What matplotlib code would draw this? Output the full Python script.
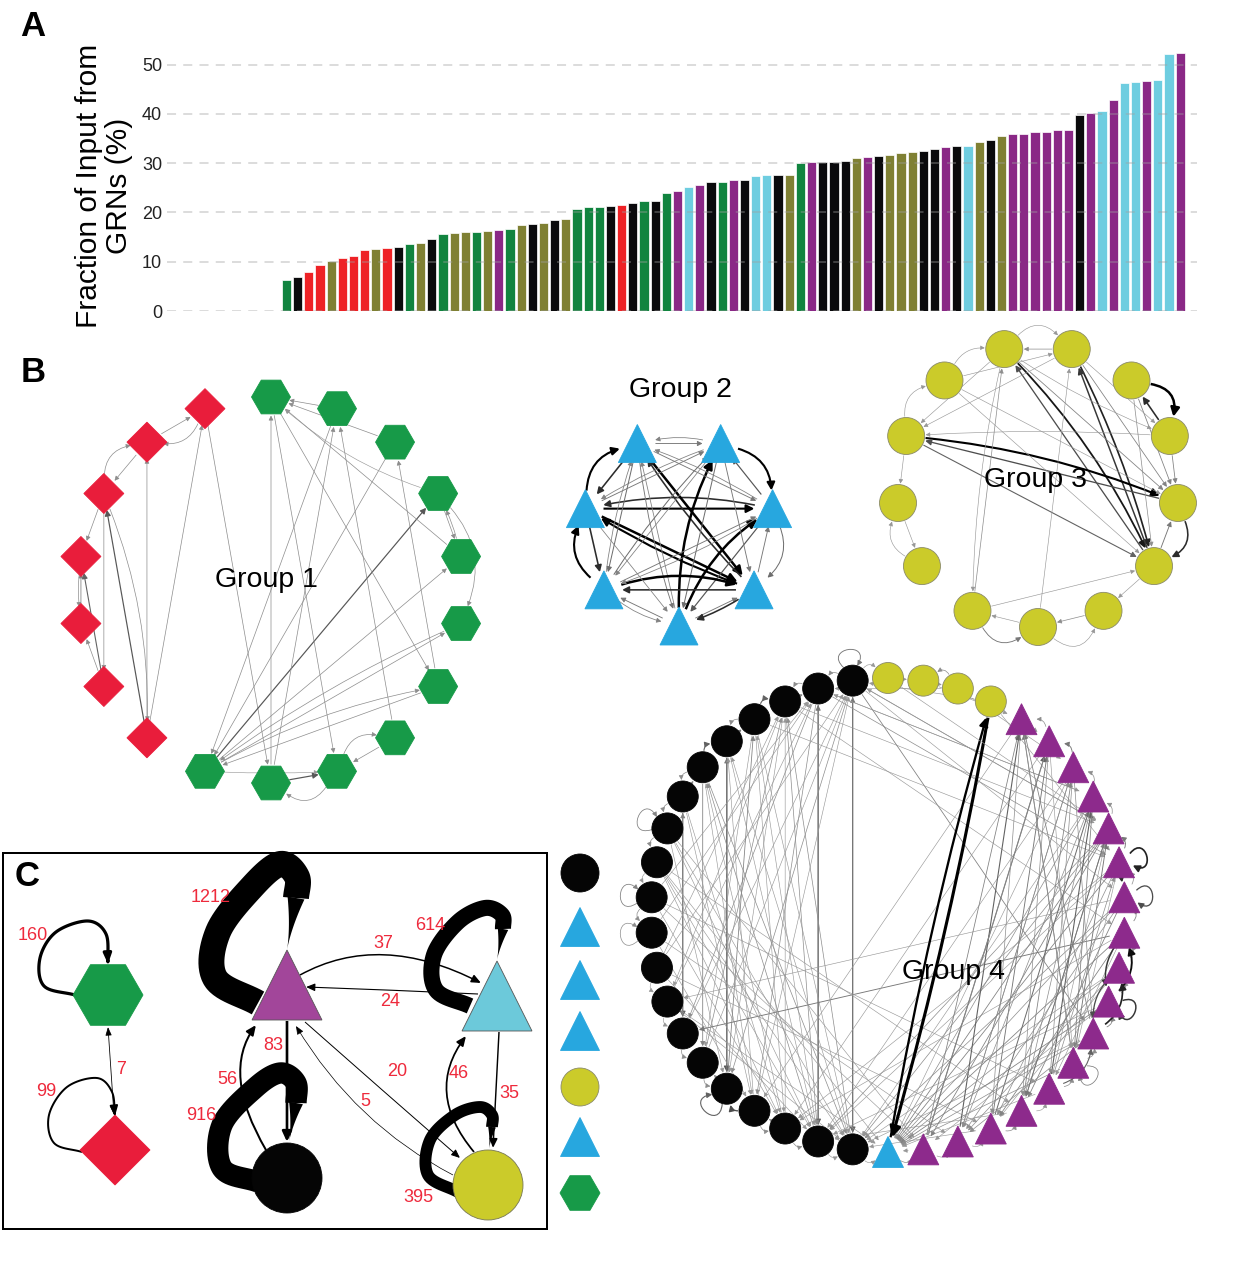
import numpy as np
import matplotlib
matplotlib.use("Agg")
import matplotlib.pyplot as plt
from matplotlib.patches import (Circle, RegularPolygon, Polygon, FancyArrowPatch,
                                Rectangle, ArrowStyle)
from matplotlib.path import Path

plt.rcParams["font.family"] = ["Liberation Sans", "DejaVu Sans"]

FIG_W, FIG_H = 1254, 1274
PT = 0.72  # points per pixel at 100 dpi

# ---------------------------------------------------------------- panel A data
zero_bars = 10
grn_input_pct = [
    6.2, 7.0, 7.9, 9.4, 10.2, 10.8, 11.2, 12.3, 12.6, 12.7,
    12.9, 13.7, 13.8, 14.7, 15.6, 15.8, 16.0, 16.1, 16.2, 16.4,
    16.6, 17.4, 17.6, 17.8, 18.5, 18.7, 20.8, 21.1, 21.2, 21.3,
    21.5, 22.0, 22.4, 22.4, 24.0, 24.4, 25.1, 25.6, 26.2, 26.2,
    26.5, 26.5, 27.5, 27.6, 27.7, 27.7, 30.0, 30.2, 30.2, 30.2,
    30.5, 31.1, 31.2, 31.5, 31.7, 32.0, 32.3, 32.5, 32.9, 33.3,
    33.5, 33.5, 34.4, 34.7, 35.6, 35.9, 36.0, 36.3, 36.4, 36.7,
    36.7, 39.7, 40.1, 40.7, 42.8, 46.3, 46.5, 46.7, 46.8, 52.2, 52.4,
]
grn_group = ("GKRRORRROR" "KGOKGOOGOP" "GOKOKOGGGK" "RKGKGPCPKG"
             "PKCCKOGPKK" "KOPKOOOKKP" "KCOKOPPPPP" "PKPCPCCPCCP")
bar_palette = {"G": "#11843f", "K": "#0a0a0c", "R": "#ee2226",
               "O": "#7f8033", "P": "#8a2886", "C": "#6ecde0"}
y_ticks = [0, 10, 20, 30, 40, 50]

# ---------------------------------------------------------------- node colours
RED, GREEN, CYAN = "#e91d3b", "#179a48", "#27a7df"
YELLOW, PURPLE, BLACK = "#cbcb2a", "#8d2a8c", "#050505"
node_style = {"H": ("hex", GREEN), "D": ("diamond", RED), "T": ("tri", CYAN),
              "Y": ("circle", YELLOW), "B": ("circle", BLACK), "P": ("tri", PURPLE)}

# ---------------------------------------------------------------- panel B data
g1_nodes = "H" * 11 + "D" * 7
g1_edges = [
    (16, 17, 0.4), (17, 16, 0.4, -0.35), (16, 15, 0.4), (15, 16, 0.4, 0.4),
    (15, 14, 0.4), (13, 14, 0.5), (14, 13, 0.4, 0.05), (12, 14, 0.8), (12, 13, 0.4),
    (15, 12, 0.4), (11, 15, 0.9), (15, 11, 0.4, -0.1), (11, 16, 0.4), (11, 17, 0.4),
    (17, 9, 0.4),
    (10, 3, 0.9), (10, 4, 0.4), (10, 5, 0.4), (10, 6, 0.4, -0.08), (6, 10, 0.4),
    (2, 10, 0.4), (1, 10, 0.4), (9, 0, 0.4), (0, 8, 0.4), (0, 6, 0.4), (9, 1, 0.4),
    (7, 1, 0.4), (6, 2, 0.4), (2, 0, 0.4), (1, 0, 0.4), (4, 0, 0.4), (3, 0, 0.3, -0.1),
    (3, 4, 0.4), (4, 3, 0.4, 0.05), (3, 5, 0.4, 0.3), (8, 7, 0.4, -0.4), (7, 8, 0.4),
    (9, 8, 0.9), (10, 8, 0.3, 0.02), (8, 9, 0.4, 0.5), (5, 10, 0.4, -0.05),
]

g2_nodes = "T" * 7
g2_edges = [
    (5, 4, 1.8, 0.35), (4, 5, 1.3), (3, 2, 1.8, 0.35), (2, 3, 0.9), (6, 5, 1.8, 0.35),
    (5, 6, 1.3), (2, 1, 0.7, 0.35), (1, 2, 0.6), (0, 6, 0.6), (6, 0, 0.5, 0.1),
    (0, 1, 0.6), (1, 0, 1.3, 0.05), (5, 2, 1.8), (2, 5, 1.3, 0.1), (5, 1, 2.2),
    (1, 5, 1.8, 0.05), (4, 1, 2.2), (1, 4, 1.3, -0.05), (0, 3, 2.2, -0.12), (3, 0, 0.7),
    (0, 2, 2.2, -0.15), (2, 0, 0.9), (0, 4, 0.5), (4, 0, 0.6, 0.05), (6, 1, 2.2, -0.15),
    (1, 6, 1.3), (6, 2, 0.6), (2, 6, 0.5, 0.05), (4, 3, 0.6), (3, 4, 0.5, 0.1),
    (5, 3, 0.6), (3, 5, 0.5, 0.05), (4, 2, 0.6), (2, 4, 0.5, 0.05), (3, 6, 0.5),
    (6, 3, 0.7, 0.05), (4, 6, 0.7), (6, 4, 0.5, 0.05), (3, 1, 0.6), (5, 0, 0.5),
]

g3_nodes = "Y" * 13
g3_edges = [
    (7, 2, 1.5, 0.08), (2, 7, 1.0), (6, 2, 1.4, 0.05), (2, 6, 1.2), (7, 3, 0.5),
    (6, 3, 0.5), (5, 3, 0.5), (4, 3, 0.5), (9, 3, 1.8, 0.07), (3, 9, 1.0),
    (9, 2, 0.8), (5, 4, 2.2, 0.5), (4, 5, 1.3), (3, 2, 1.3, 0.45), (2, 3, 0.6),
    (6, 7, 0.4), (7, 6, 0.3, 0.5), (8, 7, 0.3, 0.3), (7, 9, 0.3), (6, 9, 0.3),
    (8, 2, 0.3), (4, 9, 0.3, 0.03), (10, 11, 0.3), (11, 10, 0.3, 0.4), (9, 10, 0.3),
    (12, 7, 0.4), (7, 12, 0.3, 0.05), (0, 6, 0.3), (12, 2, 0.3), (2, 1, 0.3),
    (1, 0, 0.4), (12, 0, 0.6, 0.5), (0, 12, 0.3), (0, 1, 0.3, 0.6), (8, 3, 0.3),
    (9, 8, 0.3, 0.4), (5, 2, 0.4), (6, 4, 0.3), (7, 4, 0.3, -0.05), (8, 6, 0.3),
]

g4_nodes = "Y" + "B" * 20 + "T" + "P" * 17 + "YYY"
g4_edges = [
    (2, 19, 0.8), (19, 2, 0.6), (1, 20, 0.8), (20, 1, 0.6), (5, 16, 0.9), (16, 5, 0.6),
    (6, 15, 0.5), (7, 14, 0.8), (14, 7, 0.5), (2, 14, 0.4), (3, 13, 0.3), (1, 16, 0.4),
    (2, 17, 0.4), (4, 18, 0.3), (8, 19, 0.3), (9, 18, 0.3), (6, 20, 0.4), (3, 16, 0.3),
    (4, 15, 0.3), (7, 17, 0.3), (8, 16, 0.3), (9, 20, 0.3), (10, 18, 0.3), (11, 17, 0.3),
    (12, 19, 0.3), (13, 2, 0.3), (15, 3, 0.4), (17, 1, 0.3), (18, 3, 0.3), (19, 4, 0.3),
    (20, 5, 0.3), (10, 2, 0.3), (12, 3, 0.3), (14, 1, 0.3), (16, 4, 0.5), (18, 6, 0.3),
    (13, 20, 0.3), (9, 19, 0.3), (8, 20, 0.3), (11, 2, 0.3), (15, 1, 0.3), (17, 5, 0.3),
    (19, 6, 0.4), (20, 3, 0.4), (6, 17, 0.3), (5, 19, 0.3), (4, 20, 0.3), (12, 1, 0.3),
    (7, 18, 0.3), (3, 19, 0.4),
    (1, 2, 0.4, 0.4), (2, 3, 0.4, 0.4), (4, 3, 0.8, 0.4), (4, 5, 0.4, 0.4),
    (6, 5, 0.8, 0.4), (6, 7, 0.4, 0.4), (7, 8, 0.4, 0.4), (8, 9, 0.4, 0.4),
    (9, 10, 0.3, 0.4), (10, 11, 0.4, 0.5), (12, 13, 0.3, 0.4), (13, 14, 0.3, 0.4),
    (14, 15, 0.4, 0.4), (15, 16, 0.4, 0.4), (17, 16, 1.0, 0.4), (17, 18, 0.4, 0.4),
    (18, 19, 0.4, 0.4), (19, 20, 0.3, 0.4), (3, 2, 0.5), (5, 4, 0.6), (7, 6, 0.5),
    (16, 15, 0.4), (18, 17, 0.4),
    (1, 34, 0.4), (2, 33, 0.4), (1, 32, 0.3), (3, 34, 0.3), (2, 35, 0.3), (1, 28, 0.5),
    (4, 33, 0.3), (3, 31, 0.3), (34, 1, 0.3), (35, 2, 0.3), (31, 14, 0.6), (32, 13, 0.3),
    (9, 21, 0.3), (10, 22, 0.3), (11, 23, 0.3), (12, 24, 0.3), (8, 22, 0.3), (13, 21, 0.3),
    (9, 25, 0.3), (10, 26, 0.3),
    (34, 19, 0.4), (34, 20, 0.4), (33, 18, 0.3), (35, 20, 0.3), (32, 20, 0.4), (33, 19, 0.3),
    (36, 19, 0.3), (31, 18, 0.3), (30, 20, 0.3), (29, 19, 0.3), (28, 20, 0.3), (25, 19, 0.3),
    (24, 20, 0.3), (37, 18, 0.3), (38, 17, 0.3),
    (34, 21, 0.5), (33, 21, 0.5), (32, 21, 0.4), (31, 21, 0.5), (30, 21, 0.4), (29, 21, 0.5),
    (28, 21, 0.4), (27, 21, 0.4), (26, 21, 0.3), (35, 21, 0.4), (36, 21, 0.3),
    (21, 22, 0.4, 0.4), (22, 21, 0.3), (20, 21, 0.3, 0.4),
    (39, 21, 2.8, 0.025), (21, 39, 2.0, -0.025), (40, 2, 0.3), (39, 1, 0.3), (41, 38, 0.3),
    (40, 36, 0.3), (39, 33, 0.3), (0, 34, 0.3), (40, 41, 0.4, 0.5), (0, 41, 0.3),
    (1, 0, 0.3, 0.5), (41, 40, 0.3),
    (22, 38, 0.5), (23, 38, 0.8), (24, 37, 0.6), (25, 36, 0.5), (26, 35, 0.8), (27, 34, 0.6),
    (28, 38, 0.5), (23, 36, 0.4), (24, 35, 0.7), (25, 34, 0.5), (26, 33, 0.4), (27, 38, 0.6),
    (22, 37, 0.8), (38, 24, 0.4), (37, 25, 0.4), (36, 26, 0.4), (35, 23, 0.4), (34, 22, 0.5),
    (33, 24, 0.4), (38, 27, 0.3), (37, 22, 0.3), (36, 23, 0.4), (35, 25, 0.4), (34, 26, 0.3),
    (33, 27, 0.3), (32, 25, 0.5), (31, 26, 0.3), (30, 24, 0.3), (32, 23, 0.4), (31, 24, 0.5),
    (30, 23, 0.4), (29, 22, 0.3), (28, 23, 0.4), (34, 25, 0.6), (35, 27, 0.5), (36, 28, 0.4),
    (37, 27, 0.3),
    (22, 23, 0.3, 0.4), (23, 24, 0.3, 0.4), (24, 25, 0.4, 0.4), (25, 26, 0.3, 0.4),
    (26, 27, 0.4, 0.4), (27, 28, 0.4, 0.4), (28, 29, 0.5, 0.4), (29, 30, 0.4, 0.4),
    (30, 31, 0.4, 0.4), (31, 32, 0.5, 0.4), (32, 33, 0.4, 0.4), (33, 34, 0.6, 0.4),
    (34, 35, 0.4, 0.4), (35, 36, 0.4, 0.4), (36, 37, 0.6, 0.4), (37, 38, 0.4, 0.4),
    (38, 37, 0.3), (29, 31, 1.6, 0.3), (31, 29, 1.2, -0.2), (28, 30, 1.4, 0.3),
    (33, 32, 1.3), (30, 28, 1.0, -0.2), (26, 28, 0.8, 0.3),
]
g4_self_loops = [(1, 0.6), (8, 0.5), (10, 0.5), (11, 0.4), (16, 0.8), (27, 0.5),
                 (29, 1.2), (32, 1.0), (33, 1.4)]

# ---------------------------------------------------------------- panel C data
c_left_loops = {"hex": 160, "dia": 99}
c_left_link = 7
c_right_loops = {"pur": 1212, "cya": 614, "blk": 916, "yel": 395}
c_right_links = {"pur_cya": 37, "cya_pur": 24, "pur_blk": 83, "blk_pur": 56,
                 "pur_yel": 20, "yel_pur": 5, "yel_cya": 46, "cya_yel": 35}
legend_kinds = ["B", "T", "T", "T", "Y", "T", "H"]

# ================================================================= drawing
fig = plt.figure(figsize=(FIG_W / 100, FIG_H / 100), dpi=100)

# ---- panel A: bar chart
axA = fig.add_axes([167 / FIG_W, 1 - 311 / FIG_H, (1197 - 167) / FIG_W, (311 - 45) / FIG_H])
values = [0.0] * zero_bars + grn_input_pct
codes = "K" * zero_bars + grn_group
xs = np.arange(len(values))
axA.bar(xs, values, width=0.82, color=[bar_palette[c] for c in codes],
        edgecolor="white", linewidth=0.5, zorder=1)
axA.set_xlim(-0.7, 91.5)
axA.set_ylim(0, 54)
axA.set_yticks(y_ticks)
axA.set_yticklabels([str(t) for t in y_ticks], fontsize=13, color="#222222")
axA.set_xticks([])
axA.tick_params(axis="y", length=0, pad=3.6)
axA.set_axisbelow(False)
axA.yaxis.grid(True, linestyle=(0, (5, 4)), color="#a0a0a0", alpha=0.4, lw=1.3)
for sp in axA.spines.values():
    sp.set_visible(False)
axA.patch.set_alpha(0)
fig.text(104 / FIG_W, 1 - 186 / FIG_H, "Fraction of Input from\nGRNs (%)", rotation=90,
         ha="center", va="center", fontsize=21.5, linespacing=1.05, multialignment="center")

# ---- overlay in pixel coordinates for the networks
net = fig.add_axes([0, 0, 1, 1])
net.set_xlim(0, FIG_W)
net.set_ylim(FIG_H, 0)
net.axis("off")

for letter, (lx, ly) in {"A": (33, 27), "B": (33, 373), "C": (27, 877)}.items():
    net.text(lx, ly, letter, fontsize=25, fontweight="bold", ha="center", va="center")


def ring(cx, cy, r, n, start_deg, direction=1):
    ang = np.deg2rad(start_deg + direction * 360.0 / n * np.arange(n))
    return np.c_[cx + r * np.cos(ang), cy - r * np.sin(ang)], ang


def draw_shape(ax, xy, kind, size, color, z=5, ec=None):
    x, y = xy
    if kind == "circle":
        p = Circle((x, y), size, fc=color, ec=ec or color, lw=0.6, zorder=z)
    elif kind == "tri":
        p = Polygon([(x, y - size / 2), (x - size / 2, y + size / 2), (x + size / 2, y + size / 2)],
                    closed=True, fc=color, ec=ec or color, lw=0.6, zorder=z)
    elif kind == "hex":
        p = RegularPolygon((x, y), 6, radius=size, orientation=np.pi / 6, fc=color,
                           ec=ec or color, lw=0.6, zorder=z)
    else:
        p = RegularPolygon((x, y), 4, radius=size, fc=color, ec=ec or color, lw=0.6, zorder=z)
    ax.add_patch(p)


def boundary(kind, size):
    return {"circle": size, "tri": 0.45 * size, "hex": 0.9 * size, "diamond": 0.78 * size}[kind]


def add_arrow(ax, verts, codes_, lw_px, color, hl_px, hw_px, style="-|>", z=2):
    ax.add_patch(FancyArrowPatch(
        path=Path(verts, codes_),
        arrowstyle=ArrowStyle(style, head_length=hl_px * PT, head_width=hw_px * PT),
        mutation_scale=1, lw=lw_px * PT, color=color, zorder=z, capstyle="butt"))


def net_edge_style(w):
    g = max(0.0, 0.72 - 0.42 * w)
    return 0.3 + 1.0 * w, (g, g, g)


def curved_edge(ax, p, q, w, bend, rp, rq, center, z=2):
    p = np.asarray(p, float)
    q = np.asarray(q, float)
    d = q - p
    L = np.hypot(*d)
    perp = np.array([-d[1], d[0]]) / L
    mid = (p + q) / 2
    if center is not None and np.dot(perp, mid - center) < 0:
        perp = -perp
    c = mid + bend * L * perp
    u1 = (c - p) / np.hypot(*(c - p))
    u2 = (c - q) / np.hypot(*(c - q))
    s, e = p + rp * u1, q + rq * u2
    lw, col = net_edge_style(w)
    add_arrow(ax, [s, c, e], [Path.MOVETO, Path.CURVE3, Path.CURVE3], lw, col,
              3.0 + 2.0 * w, 1.5 + 1.0 * w, z=z)


def self_loop(ax, c, r, theta, w):
    c = np.asarray(c, float)

    def u(a):
        return np.array([np.cos(a), -np.sin(a)])
    verts = [c + r * u(theta + 0.45), c + 2.9 * r * u(theta + 0.6),
             c + 2.9 * r * u(theta - 0.6), c + r * u(theta - 0.45)]
    lw, col = net_edge_style(w)
    add_arrow(ax, verts, [Path.MOVETO, Path.CURVE4, Path.CURVE4, Path.CURVE4], lw, col,
              3.0 + 2.0 * w, 1.5 + 1.0 * w)


def draw_network(ax, layout, kinds, size_map, edges, loops=()):
    (cx, cy, r, start, direction) = layout
    pos, ang = ring(cx, cy, r, len(kinds), start, direction)
    center = np.array([cx, cy])
    rad = [boundary(node_style[k][0], size_map[k]) for k in kinds]
    for e in edges:
        s, d, w = e[:3]
        bend = e[3] if len(e) > 3 else 0.0
        curved_edge(ax, pos[s], pos[d], w, bend, rad[s] + 1, rad[d] + 1, center)
    for k, w in loops:
        self_loop(ax, pos[k], rad[k], ang[k], w)
    for i, k in enumerate(kinds):
        shape, col = node_style[k]
        draw_shape(ax, pos[i], shape, size_map[k], col,
                   ec="#8a8a6a" if k == "Y" else None)


draw_network(net, (271, 590, 193, 90, -1), g1_nodes, {"H": 19.5, "D": 20}, g1_edges)
draw_network(net, (679, 530, 96, -90, 1), g2_nodes, {"T": 38}, g2_edges)
draw_network(net, (1038, 486, 141, -90, 1), g3_nodes, {"Y": 18.5}, g3_edges)
draw_network(net, (888, 915, 237, 90, 1), g4_nodes, {"Y": 15.5, "B": 15.5, "T": 31, "P": 31},
             g4_edges, g4_self_loops)

for txt, (tx, ty) in {"Group 1": (266, 580), "Group 2": (680, 390),
                      "Group 3": (1035, 480), "Group 4": (953, 972)}.items():
    net.text(tx, ty, txt, fontsize=20.5, ha="center", va="center", zorder=8)

# ---- panel C
net.add_patch(Rectangle((3, 853), 544, 376, fill=False, ec="black", lw=2 * PT, zorder=1))


def catmull(points, n=14):
    P = np.asarray(points, float)
    P = np.vstack([2 * P[0] - P[1], P, 2 * P[-1] - P[-2]])
    out = []
    for i in range(1, len(P) - 2):
        p0, p1, p2, p3 = P[i - 1], P[i], P[i + 1], P[i + 2]
        for t in np.linspace(0, 1, n, endpoint=False):
            out.append(0.5 * (2 * p1 + (-p0 + p2) * t + (2 * p0 - 5 * p1 + 4 * p2 - p3) * t * t
                              + (-p0 + 3 * p1 - 3 * p2 + p3) * t ** 3))
    out.append(P[-2])
    return np.array(out)


def thick_loop(ax, waypoints, tip, width):
    body = catmull(waypoints)
    ax.plot(body[:, 0], body[:, 1], color="black", lw=width * PT,
            solid_capstyle="butt", solid_joinstyle="round", zorder=3)
    E = body[-1]
    tip = np.asarray(tip, float)
    d = tip - E
    n = np.array([-d[1], d[0]]) / np.hypot(*d)
    s = np.linspace(0, 1, 30)
    half = 0.33 * width * (1 - s) ** 1.7
    ctr = E[None, :] + s[:, None] * d[None, :]
    poly = np.vstack([ctr + half[:, None] * n, (ctr - half[:, None] * n)[::-1]])
    ax.add_patch(Polygon(poly, closed=True, fc="black", ec="none", zorder=3))


def thin_loop(ax, waypoints, width):
    pts = catmull(waypoints)
    add_arrow(ax, pts, [Path.MOVETO] + [Path.LINETO] * (len(pts) - 1), width, "black",
              8.0, 3.2, z=3)


def right_lw(w):
    return max(0.7, 0.12 * w ** 0.7)


def loop_w(w):
    return 0.18 * w ** 0.7


def left_lw(w):
    return max(0.8, 0.02 * w)


# loops of the left pair
thin_loop(net, [(75, 995), (44, 986), (40, 958), (56, 932), (88, 921), (106, 934), (108, 964)],
          left_lw(c_left_loops["hex"]))
thin_loop(net, [(82, 1152), (54, 1143), (49, 1115), (67, 1087), (97, 1078), (112, 1092), (115, 1116)],
          left_lw(c_left_loops["dia"]))
add_arrow(net, [(108, 1027), (114, 1115)], [Path.MOVETO, Path.LINETO], left_lw(c_left_link),
          "black", 7, 2.6, style="<|-|>", z=3)

# links of the right cluster (quadratic: start, control, end)
link_geom = {
    "pur_cya": [(300, 975), (380, 931), (481, 983)],
    "cya_pur": [(478, 994), (392, 990), (306, 987)],
    "pur_blk": [(287, 1021), (287, 1080), (287, 1142)],
    "blk_pur": [(266, 1150), (221, 1073), (256, 1025)],
    "pur_yel": [(305, 1022), (382, 1090), (460, 1158)],
    "yel_pur": [(453, 1175), (355, 1124), (296, 1026)],
    "yel_cya": [(474, 1152), (424, 1092), (466, 1036)],
    "cya_yel": [(499, 1032), (496, 1090), (493, 1148)],
}
for key, geom in link_geom.items():
    lw = right_lw(c_right_links[key])
    add_arrow(net, geom, [Path.MOVETO, Path.CURVE3, Path.CURVE3], lw, "black",
              6.5 + 0.8 * lw, 2.6 + 0.5 * lw, z=2)

# self loops of the right cluster
thick_loop(net, [(258, 1003), (215, 978), (218, 932), (252, 887), (280, 864), (297, 877), (296, 898)],
           (287, 950), loop_w(c_right_loops["pur"]))
thick_loop(net, [(470, 1006), (436, 990), (434, 955), (458, 922), (485, 908), (502, 915), (503, 929)],
           (497, 960), loop_w(c_right_loops["cya"]))
thick_loop(net, [(258, 1182), (222, 1168), (222, 1125), (255, 1088), (280, 1073), (296, 1083), (296, 1103)],
           (289, 1142), loop_w(c_right_loops["blk"]))
thick_loop(net, [(458, 1192), (428, 1175), (430, 1140), (455, 1115), (480, 1107), (492, 1115), (492, 1127)],
           (489, 1149), loop_w(c_right_loops["yel"]))

# nodes of panel C
draw_shape(net, (108, 995), "hex", 35, GREEN)
draw_shape(net, (115, 1150), "diamond", 35, RED)
draw_shape(net, (287, 985), "tri", 70, "#a2469a", ec="#555555")
draw_shape(net, (497, 996), "tri", 70, "#6cc9da", ec="#555555")
draw_shape(net, (287, 1178), "circle", 35, BLACK)
draw_shape(net, (488, 1185), "circle", 35, YELLOW, ec="#777755")

# weight labels
label_pos = {
    "hex": (33, 936), "link": (121, 1069), "dia": (46, 1092),
    "pur": (211, 898), "pur_cya": (383, 944), "cya": (430, 926), "cya_pur": (390, 1002),
    "pur_blk": (273, 1046), "blk_pur": (227, 1079), "pur_yel": (397, 1072),
    "yel_cya": (459, 1074), "cya_yel": (509, 1093), "blk": (201, 1116),
    "yel_pur": (365, 1102), "yel": (418, 1198),
}
label_val = {"hex": c_left_loops["hex"], "dia": c_left_loops["dia"], "link": c_left_link}
label_val.update(c_right_loops)
label_val.update(c_right_links)
for key, (lx, ly) in label_pos.items():
    net.text(lx, ly, str(label_val[key]), color="#ee2a3c", fontsize=13,
             ha="center", va="center", zorder=9)

# shape key beside panel C
key_y = [873, 927, 980, 1031, 1087, 1137, 1193]
for ky, k in zip(key_y, legend_kinds):
    shape, col = node_style[k]
    size = {"circle": 19, "tri": 39, "hex": 20}[shape]
    draw_shape(net, (580, ky), shape, size, col, ec="#8a8a6a" if k == "Y" else None)

fig.savefig("out.png", dpi=100)
